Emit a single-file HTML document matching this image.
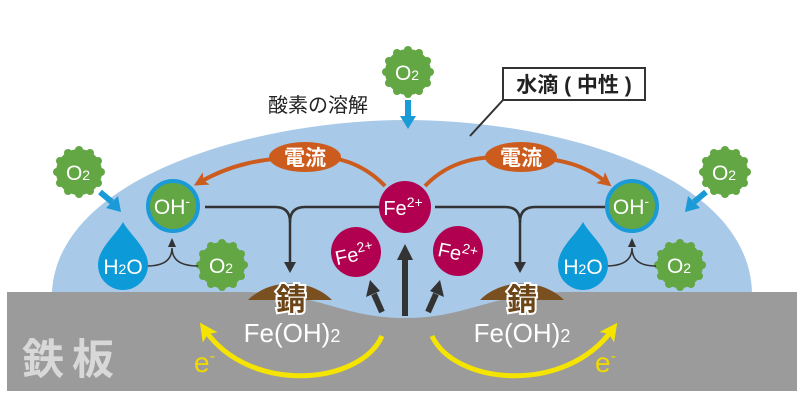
<!DOCTYPE html>
<html><head><meta charset="utf-8"><style>
html,body{margin:0;padding:0;background:#fff;}
svg{display:block;}
text{font-family:"Liberation Sans","Noto Sans CJK JP",sans-serif;}
</style></head><body>
<svg width="801" height="401" viewBox="0 0 801 401" xmlns="http://www.w3.org/2000/svg">
<defs>
<marker id="ao" markerWidth="14" markerHeight="14" refX="7" refY="7" orient="auto" markerUnits="userSpaceOnUse"><path d="M0,0 L14,7 L0,14 L3,7 Z" fill="#cc5c1e"/></marker>
<marker id="ay" markerWidth="18" markerHeight="18" refX="9" refY="9" orient="auto" markerUnits="userSpaceOnUse"><path d="M0,0 L18,9 L0,18 L4,9 Z" fill="#f5e400"/></marker>
<g id="o2"><circle r="23" fill="#62a744"/>
<g fill="#62a744"><circle cx="22" cy="0" r="4"/><circle cx="19" cy="11" r="4"/><circle cx="11" cy="19" r="4"/><circle cx="0" cy="22" r="4"/><circle cx="-11" cy="19" r="4"/><circle cx="-19" cy="11" r="4"/><circle cx="-22" cy="0" r="4"/><circle cx="-19" cy="-11" r="4"/><circle cx="-11" cy="-19" r="4"/><circle cx="0" cy="-22" r="4"/><circle cx="11" cy="-19" r="4"/><circle cx="19" cy="-11" r="4"/></g>
<text x="-1" y="8" text-anchor="middle" font-size="21" fill="#fff">O<tspan font-size="14">2</tspan></text></g>
</defs>
<rect x="7" y="292" width="790" height="99" fill="#9b9b9b"/>
<path d="M52,292 C58,175 260,120 405,120 C560,120 748,175 752,292 Z" fill="#a9c9e8"/>
<path d="M240,292 C320,292 340,318 405,318 C470,318 490,292 570,292 Z" fill="#a9c9e8"/>
<path d="M248,300 C270,278 310,278 332,300 Z" fill="#7a5020"/>
<path d="M480,300 C502,278 542,278 564,300 Z" fill="#7a5020"/>
<line x1="470" y1="136" x2="503" y2="100" stroke="#333" stroke-width="2"/>
<rect x="503" y="68" width="142" height="32" fill="#fff" stroke="#333" stroke-width="2"/>
<text x="574" y="92" text-anchor="middle" font-size="21" font-weight="bold" fill="#222">水滴 ( 中性 )</text>
<text x="318" y="112" text-anchor="middle" font-size="20" fill="#222">酸素の溶解</text>
<use href="#o2" x="408" y="72"/>
<use href="#o2" x="79" y="172"/>
<use href="#o2" x="725" y="172"/>
<use href="#o2" x="222" y="265"/>
<use href="#o2" x="680" y="265"/>
<g stroke="#1a9ad6" stroke-width="6" fill="#1a9ad6">
<line x1="408" y1="100" x2="408" y2="118"/><line x1="100" y1="192" x2="112" y2="202"/><line x1="706" y1="192" x2="694" y2="202"/></g>
<path d="M400,116 L416,116 L408,129 Z" fill="#1a9ad6"/>
<path d="M106,208 L118,196 L121,212 Z" fill="#1a9ad6"/>
<path d="M700,208 L688,196 L685,212 Z" fill="#1a9ad6"/>
<path d="M385,186 C360,160 330,155 305,157 C260,158 230,165 200,182" fill="none" stroke="#cc5c1e" stroke-width="4" marker-end="url(#ao)"/>
<path d="M425,186 C450,160 480,155 521,157 C560,158 585,165 606,182" fill="none" stroke="#cc5c1e" stroke-width="4" marker-end="url(#ao)"/>
<ellipse cx="305" cy="157" rx="36" ry="15" fill="#cc5c1e"/>
<ellipse cx="521" cy="157" rx="36" ry="15" fill="#cc5c1e"/>
<text x="305" y="165" text-anchor="middle" font-size="21" font-weight="bold" fill="#fff">電流</text>
<text x="521" y="165" text-anchor="middle" font-size="21" font-weight="bold" fill="#fff">電流</text>
<g stroke="#333" stroke-width="2.5" fill="none">
<path d="M205,207 H275 Q290,207 290,222 Q290,207 305,207 H380"/>
<line x1="290" y1="220" x2="290" y2="264"/>
<path d="M435,207 H505 Q520,207 520,222 Q520,207 535,207 H605"/>
<line x1="520" y1="220" x2="520" y2="264"/>
</g>
<path d="M284,262 L296,262 L290,273 Z" fill="#333"/>
<path d="M514,262 L526,262 L520,273 Z" fill="#333"/>
<g stroke="#333" stroke-width="6"><line x1="405" y1="316" x2="405" y2="258"/><line x1="382" y1="312" x2="374" y2="294"/><line x1="428" y1="312" x2="436" y2="294"/></g>
<path d="M397,260 L413,260 L405,244 Z" fill="#333"/>
<path d="M366,297 L380,291 L370,280 Z" fill="#333"/>
<path d="M444,297 L430,291 L440,280 Z" fill="#333"/>
<g fill="#b0004f"><circle cx="405" cy="207" r="26"/><circle cx="356" cy="252" r="25"/><circle cx="458" cy="251" r="25"/></g>
<text x="403" y="215" text-anchor="middle" font-size="20" fill="#fff">Fe<tspan font-size="14" dy="-8">2+</tspan></text>
<text x="354" y="261" text-anchor="middle" font-size="20" fill="#fff" transform="rotate(-12 356 252)">Fe<tspan font-size="14" dy="-8">2+</tspan></text>
<text x="458" y="260" text-anchor="middle" font-size="20" fill="#fff" transform="rotate(12 458 251)">Fe<tspan font-size="14" dy="-8">2+</tspan></text>
<circle cx="173" cy="206" r="25" fill="#62a744" stroke="#1a9ad6" stroke-width="4"/>
<circle cx="632" cy="206" r="25" fill="#62a744" stroke="#1a9ad6" stroke-width="4"/>
<text x="172" y="214" text-anchor="middle" font-size="21" fill="#fff">OH<tspan font-size="14" dy="-8">-</tspan></text>
<text x="631" y="214" text-anchor="middle" font-size="21" fill="#fff">OH<tspan font-size="14" dy="-8">-</tspan></text>
<g stroke="#333" stroke-width="1.5" fill="none">
<path d="M147,266 Q172,266 172,248 Q172,266 198,266"/>
<path d="M606,266 Q632,266 632,248 Q632,266 656,266"/></g>
<path d="M168,247 L176,247 L172,238 Z" fill="#333"/>
<path d="M628,247 L636,247 L632,238 Z" fill="#333"/>
<path d="M123,222 C130,235 148,248 148,265 A25,25 0 0 1 98,265 C98,248 116,235 123,222 Z" fill="#0d9ad8"/>
<path d="M583,222 C590,235 608,248 608,265 A25,25 0 0 1 558,265 C558,248 576,235 583,222 Z" fill="#0d9ad8"/>
<text x="123" y="274" text-anchor="middle" font-size="21" fill="#fff">H<tspan font-size="14">2</tspan>O</text>
<text x="583" y="274" text-anchor="middle" font-size="21" fill="#fff">H<tspan font-size="14">2</tspan>O</text>
<text x="291" y="310" text-anchor="middle" font-size="30" font-weight="bold" fill="#6b4518" stroke="#fff" stroke-width="4" paint-order="stroke">錆</text>
<text x="522" y="310" text-anchor="middle" font-size="30" font-weight="bold" fill="#6b4518" stroke="#fff" stroke-width="4" paint-order="stroke">錆</text>
<text x="292" y="342" text-anchor="middle" font-size="26" fill="#fff">Fe(OH)<tspan font-size="18">2</tspan></text>
<text x="522" y="342" text-anchor="middle" font-size="26" fill="#fff">Fe(OH)<tspan font-size="18">2</tspan></text>
<path d="M382,336 C360,385 250,395 205,330" fill="none" stroke="#f5e400" stroke-width="5" marker-end="url(#ay)"/>
<path d="M432,336 C455,385 565,395 612,330" fill="none" stroke="#f5e400" stroke-width="5" marker-end="url(#ay)"/>
<text x="194" y="372" font-size="28" fill="#f0d800">e<tspan font-size="16" dy="-11">-</tspan></text>
<text x="595" y="372" font-size="28" fill="#f0d800">e<tspan font-size="16" dy="-11">-</tspan></text>
<text x="22" y="374" font-size="42" font-weight="bold" fill="#d8d8d8" letter-spacing="8">鉄板</text>
</svg>
</body></html>
